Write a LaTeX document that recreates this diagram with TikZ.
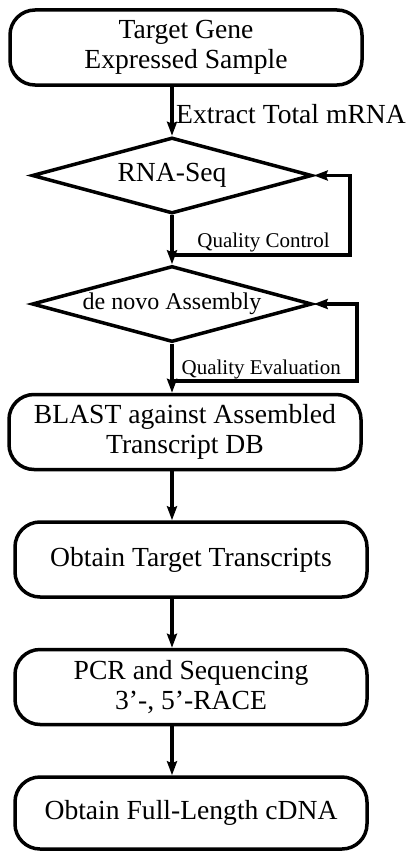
\documentclass[tikz,border=0pt]{standalone}
\usepackage{fontspec}
\setmainfont{Liberation Serif}
\usepackage{tikz}
\usetikzlibrary{arrows.meta,positioning,shapes.geometric}
\tikzset{
  stepbox/.style={draw,line width=3.5pt,rounded corners=25pt,minimum width=352pt,minimum height=75pt,align=center,inner sep=0pt,font=\fontsize{27.6}{30}\selectfont},
  decision/.style={draw,line width=3.5pt,diamond,aspect=3.7,minimum width=280pt,minimum height=76pt,inner sep=0pt,font=\fontsize{27.6}{30}\selectfont},
  arrow/.style={-{Stealth[length=14pt,width=10pt,inset=2pt]},line width=3.5pt},
  looplabel/.style={font=\fontsize{21}{24}\selectfont,inner sep=0pt}
}
\begin{document}
\begin{tikzpicture}[node distance=49pt,x=1pt,y=1pt]
  \useasboundingbox (0,0) rectangle (410,-851);
  \node[stepbox] (sample) at (186,-47.5) {Target Gene\\Expressed Sample};
  \node[decision,below=of sample,xshift=-14pt] (rnaseq) {RNA-Seq};
  \node[decision,below=of rnaseq,font=\fontsize{24}{28}\selectfont] (assembly) {de novo Assembly};
  \node[stepbox,below=of assembly,xshift=13pt] (blast) {BLAST against Assembled\\Transcript DB};
  \node[stepbox,below=of blast,xshift=6pt] (target) {Obtain Target Transcripts};
  \node[stepbox,below=of target] (race) {PCR and Sequencing\\3’-, 5’-RACE};
  \node[stepbox,below=of race,minimum height=72pt] (cdna) {Obtain Full-Length cDNA};

  \draw[arrow] (sample.south -| rnaseq.north) -- (rnaseq.north);
  \node[font=\fontsize{27.6}{30}\selectfont,inner sep=0pt,anchor=base west] (extract) at (176,-123) {Extract Total mRNA};

  \draw[arrow] (rnaseq.south) -- (assembly.north);
  \coordinate (qcturn) at (350,-255);
  \draw[arrow] (qcturn -| rnaseq.south) -- (qcturn) |- (rnaseq.east);
  \node[looplabel,anchor=base east] (qclabel) at (330,-247) {Quality Control};

  \draw[arrow] (assembly.south) -- (assembly.south |- blast.north);
  \coordinate (qeturn) at (357,-381);
  \draw[arrow] (qeturn -| assembly.south) -- (qeturn) |- (assembly.east);
  \node[looplabel,anchor=base east] (qelabel) at (341,-374) {Quality Evaluation};

  \draw[arrow] (blast.south -| rnaseq.south) -- (target.north -| rnaseq.south);
  \draw[arrow] (target.south -| rnaseq.south) -- (race.north -| rnaseq.south);
  \draw[arrow] (race.south -| rnaseq.south) -- (cdna.north -| rnaseq.south);
\end{tikzpicture}
\end{document}
